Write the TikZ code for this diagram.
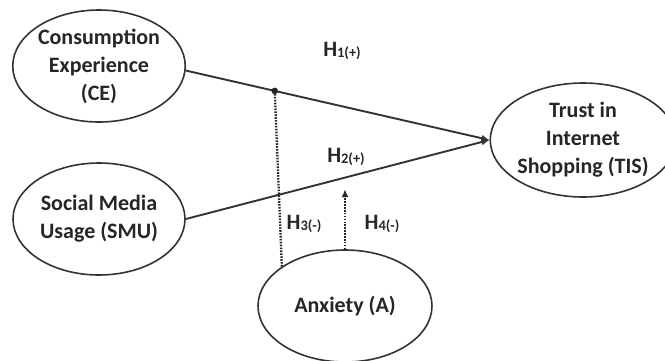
\documentclass[tikz,border=0pt]{standalone}
\usepackage{fontspec}
\setmainfont{Carlito}
\usetikzlibrary{arrows.meta,calc,shapes.geometric}
\begin{document}
\begin{tikzpicture}[x=1pt,y=-1pt,
  construct/.style={ellipse,draw=black!80,line width=1.6pt,inner sep=0pt,
    align=center,font=\bfseries\fontsize{22}{28}\selectfont,text=black!85},
  path/.style={line width=1.9pt,draw=black!80},
  moder/.style={line width=2.3pt,draw=black!85,dash pattern=on 1.6pt off 1.3pt},
  tip/.style={-{Latex[length=8pt,width=7pt]}},
  hyp/.style={font=\bfseries,text=black!85,inner sep=0pt}]
\useasboundingbox (0,0) rectangle (665,360);

% constructs
\node[construct,minimum width=172,minimum height=112] (ce) at (99,66)
  {Consumption\\Experience\\(CE)};
\node[construct,minimum width=172,minimum height=112] (smu) at (99,219)
  {Social Media\\Usage (SMU)};
\node[construct,minimum width=160,minimum height=114] (tis) at (583,140)
  {Trust in\\Internet\\Shopping (TIS)};
\node[construct,minimum width=174,minimum height=112] (anx) at (345,306)
  {Anxiety (A)};

% direct effects
\draw[path,tip] (ce.-3) -- (tis.west);
\draw[path,tip] (smu.east) -- (tis.west);

% moderating effects
\coordinate (j) at ($(ce.-3)!0.293!(tis.west)$);
\fill[black!85] (j) circle (3.3);
\draw[moder] (anx.148) -- (j);
\coordinate (m) at ($(anx.north)+(0,-60)$);
\draw[moder,tip] (anx.north) -- (m);

% hypothesis labels
\newcommand{\hlab}[2]{{\fontsize{22}{22}\selectfont H}\raisebox{-1.5pt}{\fontsize{14.5}{14.5}\selectfont #1(#2)}}
\node[hyp] (h1) at (342,51) {\hlab{1}{+}};
\node[hyp] (h2) at (346,157) {\hlab{2}{+}};
\node[hyp] (h3) at (304,224) {\hlab{3}{-}};
\node[hyp] (h4) at (382,224) {\hlab{4}{-}};
\end{tikzpicture}
\end{document}
